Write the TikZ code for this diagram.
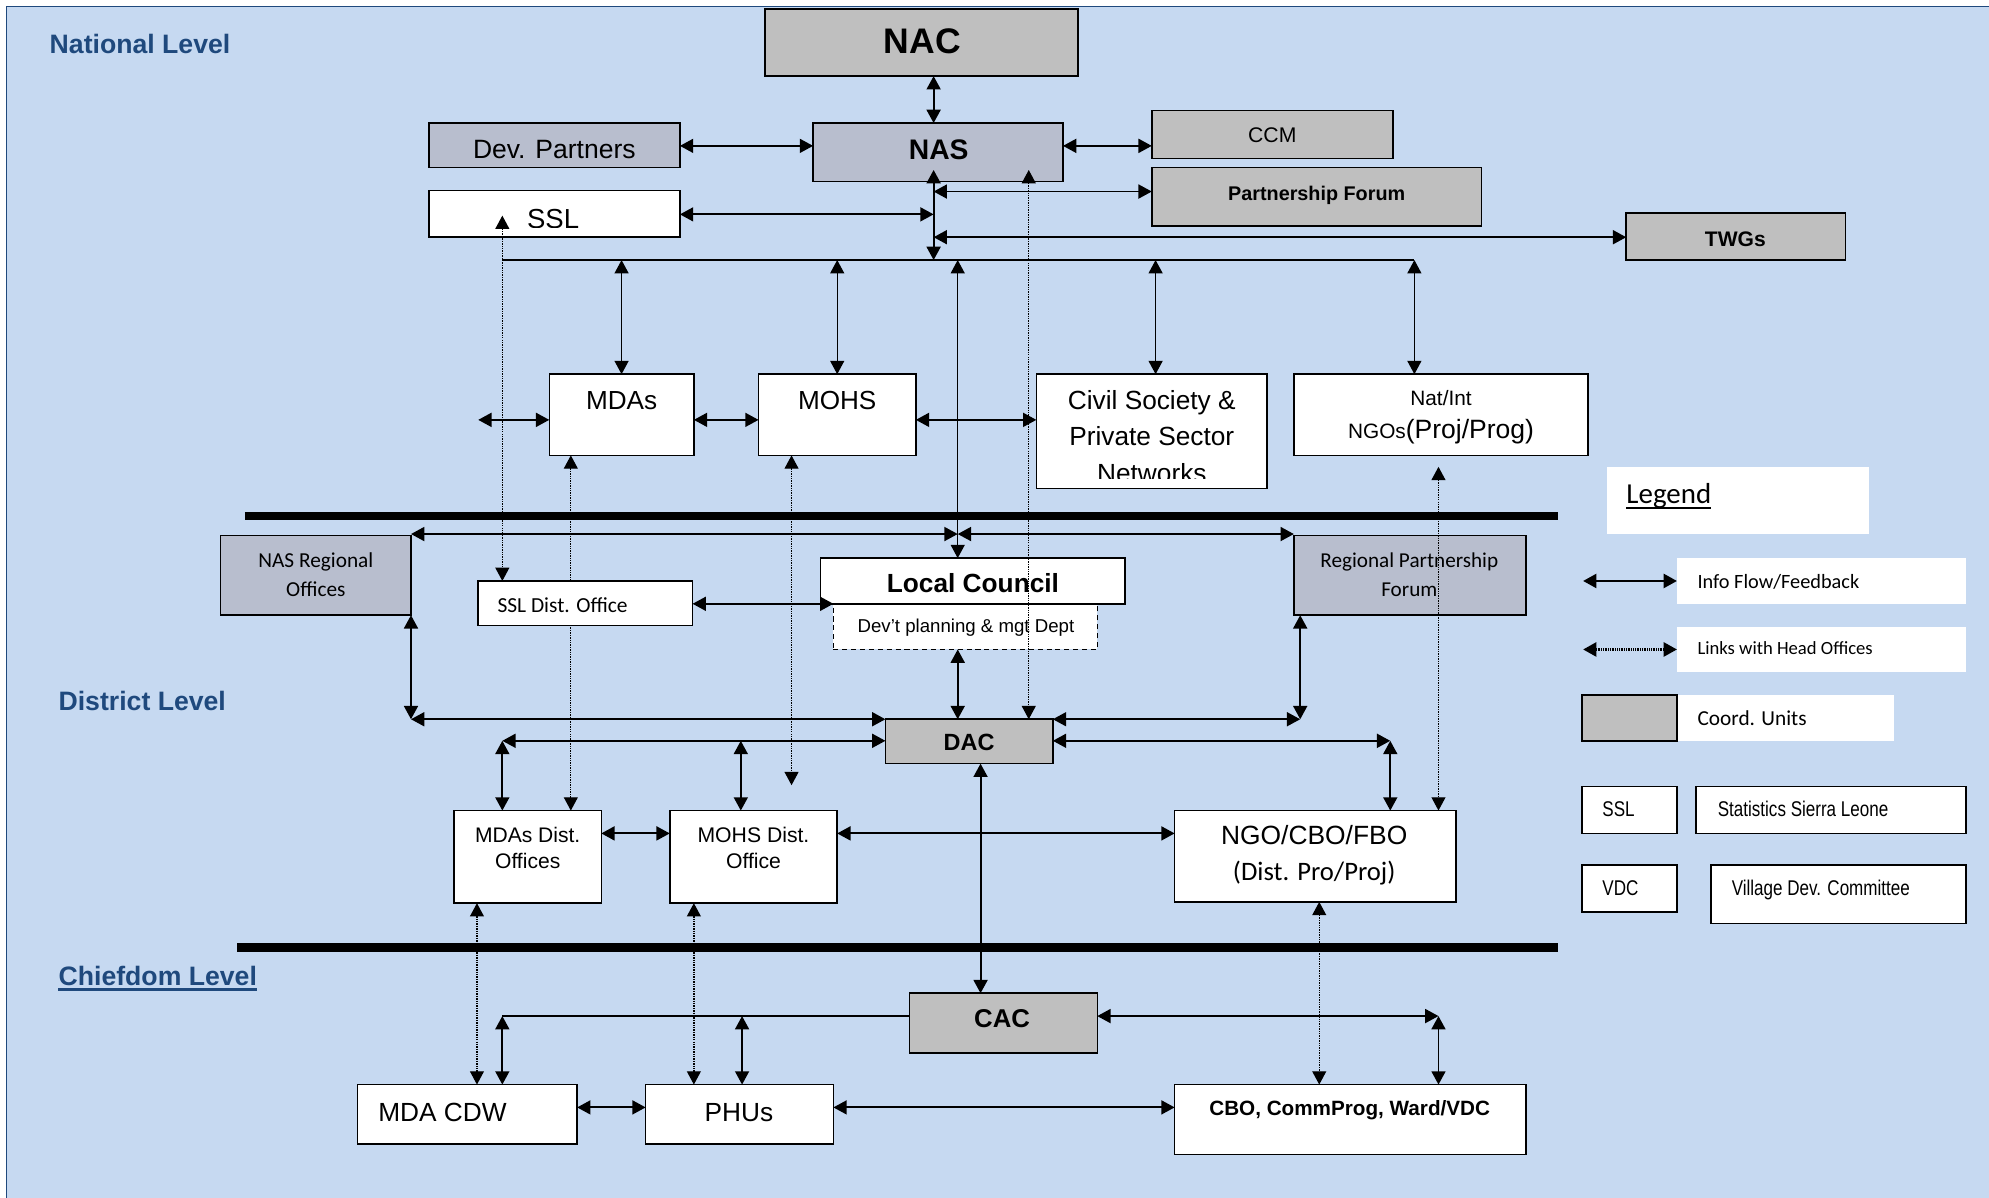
\documentclass[tikz,border=0pt]{standalone}
\usepackage{fontspec}
\setmainfont{Liberation Sans}
\newfontfamily\calfont{Carlito}
\newfontfamily\narrowfont[FakeStretch=0.8]{Liberation Sans}
\usetikzlibrary{arrows.meta,calc}
\definecolor{bgblue}{HTML}{C6D9F1}
\definecolor{coordgray}{HTML}{BFBFBF}
\definecolor{bluegray}{HTML}{B8BECE}
\definecolor{lvlblue}{HTML}{1F497D}
\newcommand\fsz[1]{\fontsize{#1}{#1}\selectfont}
\newcommand\bx[6]{\node[box,fill=#6,minimum width={#4-#2},minimum height={#5-#3}] (#1) at (#2,#3) {};}
\pgfdeclarelayer{back}
\pgfdeclarelayer{under}
\pgfsetlayers{back,under,main}
\begin{document}
\begin{tikzpicture}[x=1pt,y=-1pt,
  >={Triangle[length=10.5pt,width=11pt]},
  box/.style={draw=black,line width=1.2pt,inner sep=0pt,outer sep=0pt,anchor=north west},
  nobox/.style={box,draw=none},
  lbl/.style={inner sep=0pt,anchor=base},
  lbll/.style={inner sep=0pt,anchor=base west},
  arr/.style={line width=1.5pt,<->},
  thinarr/.style={line width=1.1pt,<->},
  plainline/.style={line width=1.3pt},
  dots/.style={line width=1pt,dash pattern=on 1.1pt off 0.8pt,<->},
  sep/.style={line width=6.5pt},
  lvl/.style={lbll,text=lvlblue,font=\bfseries\fsz{21}}]
\useasboundingbox (0,0) rectangle (1568,944);
\begin{pgfonlayer}{back}
\fill[white] (0,0) rectangle (1568,944);
\fill[bgblue] (5,5) rectangle (1580,960);
\draw[lvlblue,line width=1.2pt] (5,960) -- (5,5) -- (1580,5);
\end{pgfonlayer}

% ---------- helper coordinates ----------
\coordinate (x376) at (376,0); \coordinate (x396) at (396,0);
\coordinate (x450) at (450,0); \coordinate (x547) at (547,0);
\coordinate (x624) at (624,0); \coordinate (x736) at (736,0);
\coordinate (x755) at (755,0); \coordinate (x773) at (773,0);
\coordinate (x811) at (811,0); \coordinate (x1040) at (1040,0);
\coordinate (y115) at (0,115);

% ---------- boxes ----------
\bx{nac}{603}{7}{850}{60}{coordgray}
\bx{nas}{641}{97}{838}{143}{bluegray}
\bx{dp}{338}{97}{536}{132}{bluegray}
\bx{ccm}{908}{87}{1098}{125}{coordgray}
\bx{pf}{908}{132}{1168}{178}{coordgray}
\bx{twg}{1282}{168}{1455}{205}{coordgray}
\bx{ssl}{338}{150}{536}{187}{white}
\bx{mdas}{433}{295}{547}{359}{white}
\bx{mohs}{598}{295}{722}{359}{white}
\bx{cs}{817}{295}{999}{385}{white}
\bx{ngo}{1020}{295}{1252}{359}{white}
\node[nobox,fill=white,minimum width=206,minimum height=53] (leg) at (1267,368) {};
\bx{nasr}{174}{422}{324}{485}{bluegray}
\bx{ssld}{377}{458}{546}{493}{white}
\node[box,dash pattern=on 4pt off 3pt,line width=1.1pt,fill=white,minimum width=208,minimum height=36] (dpd) at (657,476) {};
\bx{lc}{647}{440}{887}{476}{white}
\bx{rpf}{1020}{422}{1203}{485}{bluegray}
\bx{dac}{698}{567}{830}{602}{coordgray}
\bx{mdad}{358}{639}{474}{712}{white}
\bx{mohsd}{528}{639}{660}{712}{white}
\bx{ngod}{926}{639}{1148}{711}{white}
\bx{cac}{717}{783}{865}{830}{coordgray}
\bx{cdw}{282}{855}{455}{902}{white}
\bx{phu}{509}{855}{657}{902}{white}
\bx{cbo}{926}{855}{1203}{910}{white}

% legend boxes
\node[nobox,fill=white,minimum width=228,minimum height=36] (l1box) at (1322,440) {};
\node[nobox,fill=white,minimum width=228,minimum height=36] (l2box) at (1322,494) {};
\node[nobox,fill=white,minimum width=171,minimum height=36] (l3box) at (1322,548) {};
\bx{l3sq}{1247}{548}{1322}{584}{coordgray}
\bx{l4a}{1247}{620}{1322}{657}{white}
\bx{l4b}{1337}{620}{1550}{657}{white}
\bx{l5a}{1247}{682}{1322}{719}{white}
\bx{l5b}{1349}{682}{1550}{728}{white}

% ---------- separators ----------
\coordinate (s1a) at (193,407); \coordinate (s1b) at (1228,407);
\coordinate (s2a) at (187,747); \coordinate (s2b) at (1228,747);
\draw[sep] (s1a) -- (s1b);
\draw[sep] (s2a) -- (s2b);

% ---------- texts ----------
\node[lvl] (natl) at (39,42) {National Level};
\node[lvl] (distl) at (46,560) {District Level};
\node[lvl] (chiefl) at (46,777) {Chiefdom Level};
\draw[lvlblue,line width=1.8pt] ($(chiefl.base west)+(0,3)$) -- ($(chiefl.base east)+(0,3)$);

\node[lbl,font=\bfseries\fsz{28}] (nac-t) at (727,42) {NAC};
\node[lbl,font=\bfseries\fsz{22.3}] (nas-t) at (740,126) {NAS};
\node[lbl,font=\fsz{20.9}] (dp-t) at (437,125) {Dev. Partners};
\node[lbl,font=\fsz{16.7}] (ccm-t) at (1003,112) {CCM};
\node[lbl,font=\bfseries\fsz{15.6}] (pf-t) at (1038,158) {Partnership Forum};
\node[lbl,font=\bfseries\fsz{16.6}] (twg-t) at (1368,194) {TWGs};
\begin{scope}
\clip (338,150) rectangle (536,179.5);
\node[lbl,font=\fsz{21.7}] (ssl-t) at (436,180.5) {SSL};
\end{scope}
\node[lbl,font=\fsz{20.6}] (mdas-t) at (490,323) {MDAs};
\node[lbl,font=\fsz{20.6}] (mohs-t) at (660,323) {MOHS};
\begin{scope}
\clip (817,295) rectangle (999,377);
\node[lbl,font=\fsz{20.7}] (cs-t1) at (908,323) {Civil Society \&};
\node[lbl,font=\fsz{20.7}] (cs-t2) at (908,351) {Private Sector};
\node[lbl,font=\fsz{20.7}] (cs-t3) at (908,380) {Networks};
\end{scope}
\node[lbl,font=\fsz{16.4}] (ngo-t1) at (1136,319.5) {Nat/Int};
\node[lbl] (ngo-t2) at (1136,346) {{\fsz{16.4}NGOs}{\fsz{20.9}(Proj/Prog)}};
\node[lbll,font=\calfont\fsz{22.8}] (leg-t) at (1282,397) {Legend};
\draw[line width=1.3pt] ($(leg-t.base west)+(0,3.5)$) -- ($(leg-t.base east)+(0,3.5)$);

\node[lbl,font=\calfont\fsz{16.8}] (nasr-t1) at (249,447) {NAS Regional};
\node[lbl,font=\calfont\fsz{16.8}] (nasr-t2) at (249,470.5) {Offices};
\node[lbll,font=\calfont\fsz{16.9}] (ssld-t) at (392,483) {SSL Dist. Office};
\node[lbl,font=\bfseries\fsz{20.7}] (lc-t) at (767,467) {Local Council};
\node[lbl,font=\fsz{14.7}] (dpd-t) at (761.5,499) {Dev’t planning \& mgt Dept};
\node[lbl,font=\calfont\fsz{16.7}] (rpf-t1) at (1111,447) {Regional Partnership};
\node[lbl,font=\calfont\fsz{16.7}] (rpf-t2) at (1111,470.5) {Forum};
\node[lbl,font=\bfseries\fsz{18.5}] (dac-t) at (764,592) {DAC};
\node[lbl,font=\fsz{16.6}] (mdad-t1) at (416,664) {MDAs Dist.};
\node[lbl,font=\fsz{16.6}] (mdad-t2) at (416,685) {Offices};
\node[lbl,font=\fsz{16.7}] (mohsd-t1) at (594,664) {MOHS Dist.};
\node[lbl,font=\fsz{16.7}] (mohsd-t2) at (594,685) {Office};
\node[lbl,font=\fsz{20.8}] (ngod-t1) at (1036,666) {NGO/CBO/FBO};
\node[lbl,font=\calfont\fsz{21}] (ngod-t2) at (1036,694) {(Dist. Pro/Proj)};
\node[lbl,font=\bfseries\fsz{20.3}] (cac-t) at (790,810) {CAC};
\node[lbll,font=\fsz{20.7}] (cdw-t) at (298,884) {MDA CDW};
\node[lbl,font=\fsz{20.7}] (phu-t) at (582.5,884) {PHUs};
\node[lbl,font=\bfseries\fsz{16.3}] (cbo-t) at (1064,879) {CBO, CommProg, Ward/VDC};

\node[lbll,font=\calfont\fsz{16}] (l1-t) at (1338,464) {Info Flow/Feedback};
\node[lbll,font=\calfont\fsz{14.7}] (l2-t) at (1338,516) {Links with Head Offices};
\node[lbll,font=\calfont\fsz{16.8}] (l3-t) at (1338,572) {Coord. Units};
\node[lbll,font=\narrowfont\fsz{16.8}] (l4a-t) at (1263,644) {SSL};
\node[lbll,font=\narrowfont\fsz{16.8}] (l4b-t) at (1354,644) {Statistics Sierra Leone};
\node[lbll,font=\narrowfont\fsz{16.8}] (l5a-t) at (1263,706) {VDC};
\node[lbll,font=\narrowfont\fsz{16.8}] (l5b-t) at (1365,706) {Village Dev. Committee};

% ---------- connectors: national ----------
\coordinate (j151) at (736,151);
\coordinate (j169) at (736,169);
\coordinate (j187) at (736,187);
\coordinate (b396) at (396,205);
\coordinate (b736) at (736,205);
\coordinate (b755) at (755,205);
\coordinate (b1115) at (1115,205);
\draw[arr] (nac.south -| x736) -- (nas.north -| x736);
\draw[arr] (dp.east |- y115) -- (nas.west |- y115);
\draw[arr] (nas.east |- y115) -- (ccm.west |- y115);
\draw[arr] ($(nas.south -| x736)+(0,-9)$) -- (b736);
\draw[arr] (j151) -- (pf.west |- j151);
\draw[arr] (ssl.east |- j169) -- (j169);
\draw[arr] (j187) -- (twg.west |- j187);
\draw[plainline] (b396) -- (b1115);
\draw[thinarr] (mdas.north |- b396) -- (mdas.north);
\draw[thinarr] (mohs.north |- b396) -- (mohs.north);
\draw[thinarr] ($(cs.north |- b396)+(3,0)$) -- ($(cs.north)+(3,0)$);
\draw[thinarr] (b1115) -- (ngo.north -| b1115);
\draw[thinarr] (b755) -- (lc.north -| b755);
\draw[dots] ($(nas.south -| x811)+(0,-9)$) -- (dac.north -| x811);
\draw[dots] ($(ssl.south -| x396)+(0,-17)$) -- (ssld.north -| x396);
\begin{pgfonlayer}{under}
\draw[dots] (mdas.south -| x450) -- (mdad.north -| x450);
\end{pgfonlayer}
\coordinate (e624) at (624,619);
\draw[dots] (mohs.south -| x624) -- (e624);
\coordinate (e1134) at (1134,368);
\draw[dots] (e1134) -- (ngod.north -| e1134);
\coordinate (w331) at (377,331);
\draw[arr] (w331) -- (mdas.west |- w331);
\draw[arr] (mdas.east |- w331) -- (mohs.west |- w331);
\draw[arr] (mohs.east |- w331) -- (cs.west |- w331);

% ---------- connectors: district ----------
\coordinate (m421) at (755,421);
\draw[arr] (nasr.east |- m421) -- (m421);
\draw[arr] (m421) -- (rpf.west |- m421);
\coordinate (y476) at (0,476);
\draw[arr] (ssld.east |- y476) -- (dpd.north west);
\draw[arr] (dpd.south -| x755) -- (dac.north -| x755);
\coordinate (cl) at (324,567);
\coordinate (cr) at (1025,567);
\draw[arr] (nasr.south east) -- (cl);
\draw[arr] (cl) -- (dac.north west);
\draw[arr] (rpf.south -| cr) -- (cr);
\draw[arr] (cr) -- (dac.north east);
\coordinate (dl) at (396,584);
\coordinate (dm) at (584,584);
\coordinate (dr) at (1096,584);
\draw[arr] (dac.west |- dl) -- (dl);
\draw[arr] (dl) -- (mdad.north -| dl);
\draw[arr] (dm) -- (mohsd.north -| dm);
\draw[arr] (dac.east |- dr) -- (dr);
\draw[arr] (dr) -- (ngod.north -| dr);
\draw[arr] (dac.south -| x773) -- (cac.north -| x773);
\coordinate (y657) at (0,657);
\draw[arr] (mdad.east |- y657) -- (mohsd.west |- y657);
\draw[arr] (mohsd.east |- y657) -- (ngod.west |- y657);

% ---------- connectors: chiefdom ----------
\draw[dots] (mdad.south -| x376) -- (cdw.north -| x376);
\draw[dots] (mohsd.south -| x547) -- (phu.north -| x547);
\draw[dots] (ngod.south -| x1040) -- (cbo.north -| x1040);
\coordinate (cl2) at (396,801);
\coordinate (cm2) at (585,801);
\coordinate (cr2) at (1134,801);
\draw[plainline] (cac.west |- cl2) -- (cl2);
\draw[arr] (cl2) -- (cdw.north -| cl2);
\draw[arr] (cm2) -- (phu.north -| cm2);
\draw[arr] (cac.east |- cr2) -- (cr2);
\draw[arr] (cr2) -- (cbo.north -| cr2);
\coordinate (y873) at (0,873);
\draw[arr] (cdw.east |- y873) -- (phu.west |- y873);
\draw[arr] (phu.east |- y873) -- (cbo.west |- y873);

% ---------- legend arrows ----------
\coordinate (la1) at (1248,458);
\coordinate (la2) at (1248,512);
\draw[arr,line width=2pt] (la1) -- (l1box.west |- la1);
\draw[line width=2.2pt,dash pattern=on 0.7pt off 0.7pt,<->] (la2) -- (l2box.west |- la2);
\end{tikzpicture}
\end{document}
